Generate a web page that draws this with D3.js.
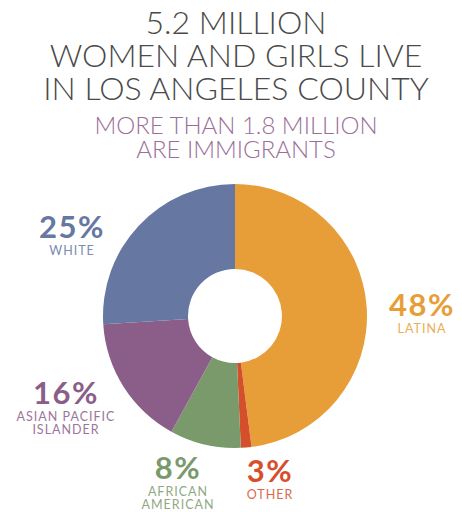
<!DOCTYPE html>
<html>
<head>
<meta charset="utf-8">
<script src="https://cdn.jsdelivr.net/npm/d3@7"></script>
<style>
  body { margin: 0; background: #fff; }
  svg { display: block; }
</style>
</head>
<body>
<div id="chart"></div>
<script>
    //Chart text and data.
    let titleLines = ["5.2 MILLION", "WOMEN AND GIRLS LIVE", "IN LOS ANGELES COUNTY"];
    let subtitleLines = ["MORE THAN 1.8 MILLION", "ARE IMMIGRANTS"];

    //Slices go clockwise from 12 o'clock.
    let groups = ["Latina", "Other", "African American", "Asian Pacific Islander", "White"];
    let sliceValues = [48, 1.3, 8.7, 16, 26];
    let percentLabels = ["48%", "3%", "8%", "16%", "25%"];
    let nameLabels = [["LATINA"], ["OTHER"], ["AFRICAN", "AMERICAN"], ["ASIAN PACIFIC", "ISLANDER"], ["WHITE"]];
    let colors = ["#e89e38", "#d4502b", "#7b9a6c", "#8b5e89", "#6677a1"];

    //Dimensions of the page.
    let w = 462;
    let h = 512;
    let cx = 235;
    let cy = 316;
    let outerR = 132;
    let innerR = 47;

    //Where each label sits (centre x, baseline of the percent).
    let labelPos = [[422, 316], [270, 482], [178, 479], [66, 404], [72, 238]];

    const svg = d3.select("#chart")
                .append("svg")
                .attr("width", w)
                .attr("height", h)

    //Title lines.
    svg.append("g")
        .selectAll("text")
        .data(titleLines)
        .enter()
        .append("text")
        .attr("x", 236)
        .attr("y", (d, i) => 34 + i * 33)
        .attr("text-anchor", "middle")
        .style("font-family", "Lato, 'Open Sans', sans-serif")
        .style("font-weight", 300)
        .style("font-size", "32px")
        .style("fill", "#4a4a4a")
        .text(d => d)

    //Subtitle in purple.
    svg.append("g")
        .selectAll("text")
        .data(subtitleLines)
        .enter()
        .append("text")
        .attr("x", 236)
        .attr("y", (d, i) => 134 + i * 24)
        .attr("text-anchor", "middle")
        .style("font-family", "Lato, 'Open Sans', sans-serif")
        .style("font-weight", 300)
        .style("font-size", "24px")
        .style("fill", "#9a709a")
        .text(d => d)

    //Builds the donut.
    let pie = d3.pie().sort(null).value(d => d)
    let arc = d3.arc().innerRadius(innerR).outerRadius(outerR)

    svg.append("g")
        .attr("transform", "translate(" + cx + "," + cy + ")")
        .selectAll("path")
        .data(pie(sliceValues))
        .enter()
        .append("path")
        .attr("d", arc)
        .attr("fill", (d, i) => colors[i])

    //Percent and group labels round the donut.
    let labels = svg.append("g")
        .selectAll("g")
        .data(groups)
        .enter()
        .append("g")
        .attr("transform", (d, i) => "translate(" + labelPos[i][0] + "," + labelPos[i][1] + ")")

    labels.append("text")
        .attr("text-anchor", "middle")
        .style("font-family", "Lato, 'Open Sans', sans-serif")
        .style("font-weight", 700)
        .style("font-size", "31px")
        .style("letter-spacing", "1.5px")
        .style("fill", (d, i) => colors[i])
        .text((d, i) => percentLabels[i])

    labels.each(function (d, i) {
        d3.select(this).selectAll("text.name")
            .data(nameLabels[i])
            .enter()
            .append("text")
            .attr("class", "name")
            .attr("y", (t, j) => 17 + j * 13)
            .attr("text-anchor", "middle")
            .style("font-family", "Lato, 'Open Sans', sans-serif")
            .style("font-size", "12.5px")
            .style("letter-spacing", "1px")
            .style("fill", colors[i])
            .style("opacity", 0.85)
            .text(t => t)
    })
</script>
</body>
</html>
